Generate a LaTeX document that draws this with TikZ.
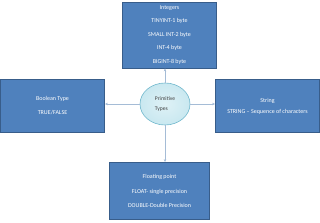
\documentclass[tikz,border=0pt]{standalone}
\usepackage{fontspec}
\setmainfont{Carlito}
\usepackage{xcolor}
\usepackage{tikz}
\usetikzlibrary{arrows.meta,positioning,calc,shapes.geometric}
\definecolor{bx}{HTML}{4F81BD}
\definecolor{bd}{HTML}{385D8A}
\definecolor{el}{HTML}{C9E8F0}
\definecolor{ed}{HTML}{6FB7CC}
\definecolor{ln}{HTML}{A5BCD6}
\definecolor{tx}{HTML}{404040}

\begin{document}
\begin{tikzpicture}[x=1pt,y=-1pt,
    tbox/.style={draw=bd, line width=0.8pt, fill=bx, text=white, align=center,
      font=\fontsize{6}{13.5}\selectfont, inner sep=0pt},
    conn/.style={draw=ln, line width=0.7pt, -{Stealth[length=3pt,width=2.5pt]}}]
  \useasboundingbox (0,0) rectangle (320,222);
  \node[tbox, minimum width=94pt, minimum height=66pt] (int) at (169.5,35) {%
    Integers\\TINYINT-1 byte\\SMALL INT-2 byte\\INT-4 byte\\BIGINT-8 byte};
  \node[tbox, minimum width=104pt, minimum height=53pt] (bool) at (52.5,106) {%
    Boolean Type\\[0.5pt]TRUE/FALSE};
  \node[tbox, minimum width=104pt, minimum height=53pt,
    font=\fontsize{6}{11}\selectfont] (str) at (267.5,106) {%
    String\\STRING -- Sequence of characters};
  \node[tbox, minimum width=100pt, minimum height=57pt,
    font=\fontsize{6}{14.5}\selectfont] (flt) at (159.5,191) {%
    Floating point\\FLOAT- single precision\\DOUBLE-Double Precision};
  \node[ellipse, draw=ed, line width=0.6pt, inner color=el!60, outer color=el,
    minimum width=50pt, minimum height=42pt, text=tx, align=left,
    font=\fontsize{5.6}{10}\selectfont] (prim) at (165,104) {Primitive\\Types};
  \draw[conn] (prim.north) -- (prim.north |- int.south);
  \draw[conn] (prim.west) -- (prim.west -| bool.east);
  \draw[conn] (prim.east) -- (prim.east -| str.west);
  \draw[conn] (prim.south) -- (prim.south |- flt.north);
\end{tikzpicture}
\end{document}
